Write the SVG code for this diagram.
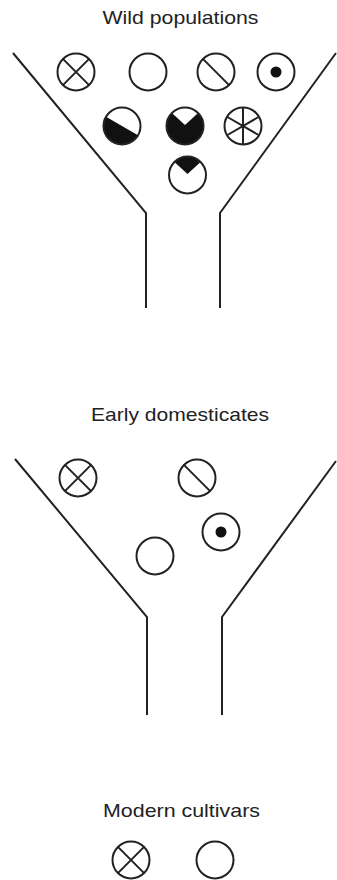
<svg xmlns="http://www.w3.org/2000/svg" width="337" height="880" viewBox="0 0 337 880">
<style>
.t{font-family:"Liberation Sans",Arial,sans-serif;font-size:19px;fill:#222;text-anchor:middle}
.c{fill:none;stroke:#222;stroke-width:2}
.l{fill:none;stroke:#222;stroke-width:2;stroke-linejoin:miter}
.k{fill:#111;stroke:none}
.w{fill:#fff;stroke:none}
</style>
<rect width="337" height="880" fill="#fff"/>

<!-- Section 1 -->
<text class="t" x="180.5" y="24" textLength="156" lengthAdjust="spacingAndGlyphs">Wild populations</text>
<g id="funnel1">
<polyline class="l" points="13,53 146,213 146,308"/>
<polyline class="l" points="336,53 220,213 220,308"/>
</g>
<g id="w-cross"><circle class="c" cx="76" cy="72" r="18.5"/><path class="c" d="M62.9,58.9 L89.1,85.1 M89.1,58.9 L62.9,85.1"/></g>
<g id="w-empty"><circle class="c" cx="148" cy="72" r="18.5"/></g>
<g id="w-slash"><circle class="c" cx="216" cy="72" r="18.5"/><path class="c" d="M202.9,58.9 L229.1,85.1"/></g>
<g id="w-dot"><circle class="c" cx="276" cy="72" r="18.5"/><circle class="k" cx="276" cy="72" r="5.5"/></g>
<g id="w-half"><path class="k" d="M105.98,116.75 L138.02,135.25 A18.5,18.5 0 0,1 105.98,116.75 Z"/><circle class="c" cx="122" cy="126" r="18.5"/></g>
<g id="w-notch"><circle class="k" cx="185" cy="126" r="18.5"/><path class="w" d="M185,125 L171.9,112.9 A18.5,18.5 0 0,1 198.1,112.9 Z"/><circle class="c" cx="185" cy="126" r="18.5"/></g>
<g id="w-wheel"><circle class="c" cx="243" cy="126" r="18.5"/><path class="c" d="M243,107.5 L243,144.5 M227,116.75 L259,135.25 M227,135.25 L259,116.75"/></g>
<g id="w-wedge"><path class="k" d="M187.5,174 L174.4,161.9 A18.5,18.5 0 0,1 200.6,161.9 Z"/><circle class="c" cx="187.5" cy="175" r="18.5"/></g>

<!-- Section 2 -->
<text class="t" x="180" y="421" textLength="178" lengthAdjust="spacingAndGlyphs">Early domesticates</text>
<g id="funnel2">
<polyline class="l" points="15,459 147,617 147,715"/>
<polyline class="l" points="336,461 222,617 222,715"/>
</g>
<g id="e-cross"><circle class="c" cx="78" cy="478" r="18.5"/><path class="c" d="M64.9,464.9 L91.1,491.1 M91.1,464.9 L64.9,491.1"/></g>
<g id="e-slash"><circle class="c" cx="197" cy="478" r="18.5"/><path class="c" d="M183.9,464.9 L210.1,491.1"/></g>
<g id="e-dot"><circle class="c" cx="221" cy="532" r="18.5"/><circle class="k" cx="221" cy="532" r="5.5"/></g>
<g id="e-empty"><circle class="c" cx="155" cy="556" r="18.5"/></g>

<!-- Section 3 -->
<text class="t" x="181.5" y="817" textLength="157" lengthAdjust="spacingAndGlyphs">Modern cultivars</text>
<g id="m-cross"><circle class="c" cx="131" cy="860" r="18.5"/><path class="c" d="M117.9,846.9 L144.1,873.1 M144.1,846.9 L117.9,873.1"/></g>
<g id="m-empty"><circle class="c" cx="215" cy="860" r="18.5"/></g>
</svg>
